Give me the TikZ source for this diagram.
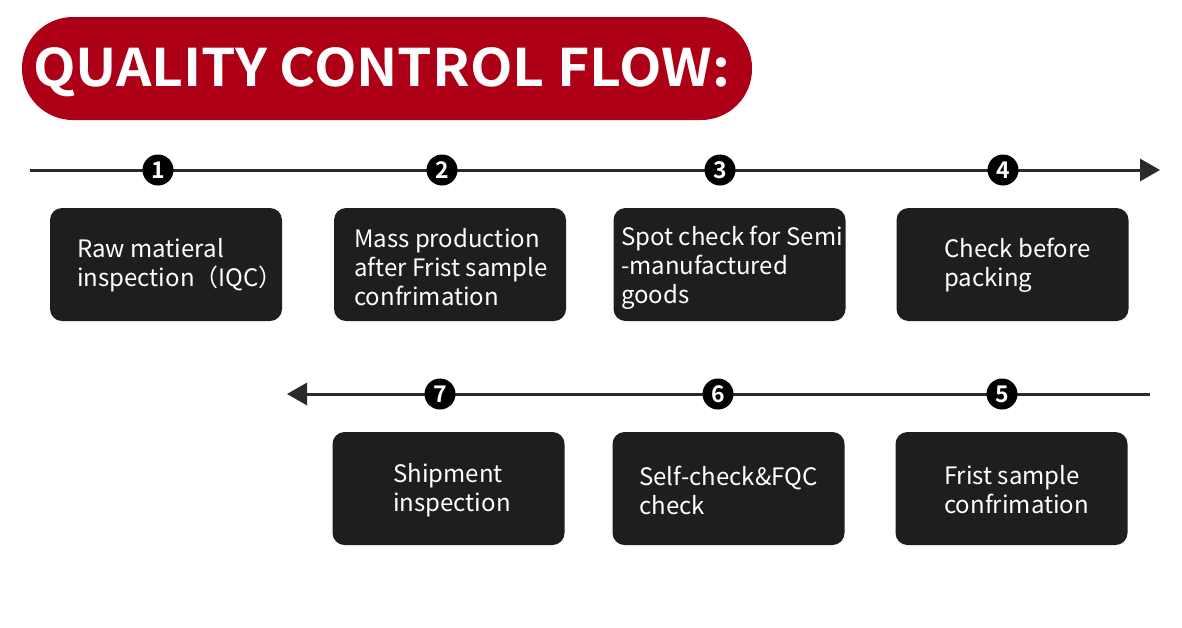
\documentclass[tikz,border=0pt]{standalone}
\usepackage{fontspec}
\newfontfamily\cjk{Noto Sans CJK SC}[BoldFont={Noto Sans CJK SC Bold}]
\usetikzlibrary{arrows.meta}
\definecolor{qred}{HTML}{AD0017}
\definecolor{qbox}{HTML}{1E1E1E}
\definecolor{qline}{HTML}{2A2A2A}
\tikzset{
  stepbox/.style={fill=qbox, rounded corners=12pt, minimum width=232pt, minimum height=113pt, inner sep=0pt},
  boxtext/.style={text=white, font=\cjk\fontsize{24}{29}\selectfont, align=left, anchor=west, inner sep=0pt},
  numdot/.style={circle, fill=black, minimum size=31pt, inner sep=0pt, text=white, font=\cjk\bfseries\fontsize{23}{23}\selectfont},
  flowline/.style={qline, line width=3pt, -{Triangle[length=20pt,width=22pt]}}
}
\begin{document}
\begin{tikzpicture}[x=1pt,y=-1pt]
\useasboundingbox (0,0) rectangle (1182,627);
% title
\node[fill=qred, rounded corners=51pt, minimum width=730pt, minimum height=103pt, inner sep=0pt] (title) at (387,68.5) {};
\node[text=white, font=\cjk\bfseries\fontsize{52}{52}\selectfont, inner sep=0pt, anchor=base west] (titletext) at (33,86) {\resizebox{697pt}{39pt}{QUALITY CONTROL FLOW:}};
% top line
\coordinate (tl) at (30,170);
\coordinate (tr) at (1160,170);
\draw[flowline] (tl) -- (tr);
\node[numdot] (n1) at (158,170) {1};
\node[numdot] (n2) at (442,170) {2};
\node[numdot] (n3) at (720,170) {3};
\node[numdot] (n4) at (1003,170) {4};
% bottom line
\coordinate (bl) at (287,394);
\coordinate (br) at (1150,394);
\draw[flowline] (br) -- (bl);
\node[numdot] (n7) at (440,394) {7};
\node[numdot] (n6) at (718,394) {6};
\node[numdot] (n5) at (1002,394) {5};
% boxes top
\node[stepbox] (b1) at (166,264.5) {};
\node[stepbox] (b2) at (450,264.5) {};
\node[stepbox] (b3) at (729.5,264.5) {};
\node[stepbox] (b4) at (1012.5,264.5) {};
% boxes bottom
\node[stepbox] (b7) at (448.5,488.5) {};
\node[stepbox] (b6) at (728.5,488.5) {};
\node[stepbox] (b5) at (1011.5,488.5) {};
% texts
\node[boxtext] (t1) at (77,265) {Raw matieral\\inspection（IQC）};
\node[boxtext] (t2) at (354,267) {Mass production\\after Frist sample\\confrimation};
\node[boxtext] (t3) at (621,268) {Spot check for Semi\\-manufactured\\goods};
\node[boxtext] (t4) at (944,265) {Check before\\packing};
\node[boxtext] (t7) at (393,490) {Shipment\\inspection};
\node[boxtext] (t6) at (639,490) {Self-check\&FQC\\check};
\node[boxtext] (t5) at (944,490) {Frist sample\\confrimation};
\end{tikzpicture}
\end{document}
